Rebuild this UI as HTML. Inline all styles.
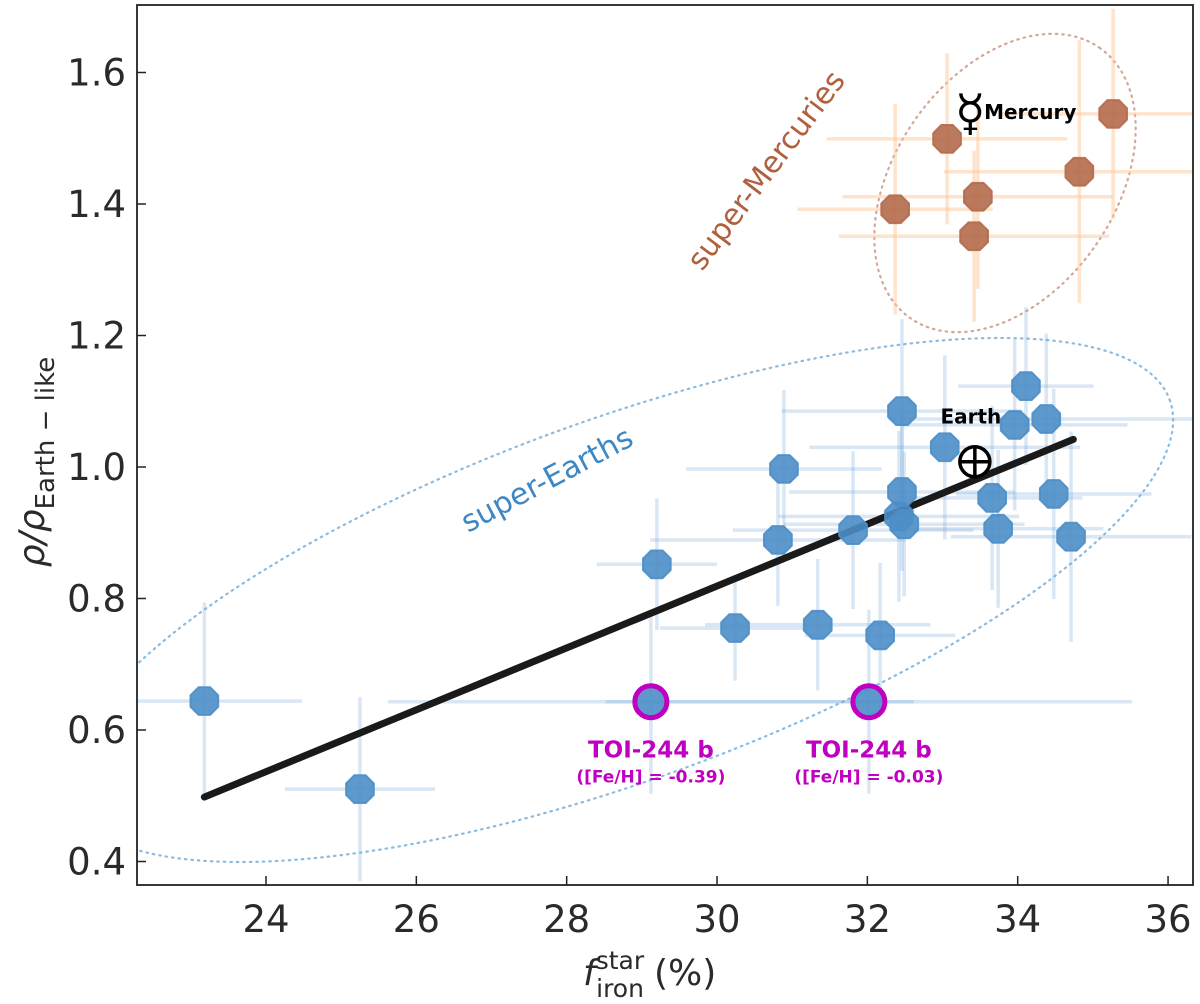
<!DOCTYPE html>
<html><head><meta charset="utf-8"><style>
html,body{margin:0;padding:0;background:#fff;}
svg{display:block;font-family:"DejaVu Sans","Liberation Sans",sans-serif;}
</style></head><body>
<svg id="chart" width="1200" height="1004" viewBox="0 0 1200 1004">
<defs><clipPath id="plotclip"><rect x="137" y="5" width="1056" height="880"/></clipPath></defs>
<g id="grid" clip-path="url(#plotclip)"></g>
<g id="marks" clip-path="url(#plotclip)"></g>
<rect x="137" y="5" width="1056" height="880" fill="none" stroke="#222" stroke-width="1.8"/>
<g id="axes"></g>
</svg>
<script>
const xTicks=[24,26,28,30,32,34,36];
const yTicks=[0.4,0.6,0.8,1.0,1.2,1.4,1.6];
const yTickLabels=["0.4","0.6","0.8","1.0","1.2","1.4","1.6"];
const earthX=[23.18,25.25,29.2,30.24,30.81,30.89,31.34,31.81,32.17,32.46,32.46,32.42,32.49,33.03,33.66,33.74,33.96,34.11,34.38,34.48,34.71];
const earthY=[0.644,0.510,0.852,0.755,0.889,0.997,0.760,0.904,0.744,1.085,0.962,0.925,0.913,1.030,0.953,0.906,1.064,1.123,1.073,0.959,0.894];
const earthXErr=[1.3,1.0,0.8,1.0,1.7,1.3,1.5,1.6,1.0,1.6,1.5,1.6,1.6,1.8,1.2,1.4,1.5,0.9,2.1,1.3,1.6];
const earthYErr=[0.15,0.14,0.1,0.08,0.1,0.12,0.1,0.12,0.11,0.14,0.12,0.13,0.11,0.14,0.14,0.12,0.13,0.12,0.13,0.16,0.16];
const mercX=[32.37,33.06,33.47,33.42,34.82,35.27];
const mercY=[1.392,1.499,1.411,1.351,1.449,1.537];
const mercXErr=[1.3,1.6,1.8,1.8,1.8,1.5];
const mercYErr=[0.16,0.13,0.14,0.13,0.2,0.16];
const toiX=[29.12,32.02];
const toiY=[0.643,0.643];
const toiXErr=[3.5,3.5];
const toiYErr=[0.14,0.14];
const toiLabels=["([Fe/H] = -0.39)","([Fe/H] = -0.03)"];
const fitX=[23.18,34.74];
const fitY=[0.498,1.042];
const mercuryPlanet=[33.34,1.543];
const earthPlanet=[33.43,1.008];

const X=v=>266+(v-24)*75.17;
const Y=v=>467-(v-1.0)*657.5;
const NS="http://www.w3.org/2000/svg";
function mk(tag,attrs,parent){const e=document.createElementNS(NS,tag);for(const k in attrs)e.setAttribute(k,attrs[k]);parent.appendChild(e);return e;}
const grid=document.getElementById('grid'),marks=document.getElementById('marks'),axes=document.getElementById('axes');

let el=mk('ellipse',{cx:620,cy:600,rx:585,ry:180,transform:'rotate(-20 620 600)',fill:'none',stroke:'#8bbbe0','stroke-width':2.2,'stroke-dasharray':'1.5 5','stroke-linecap':'round'},grid);


el=mk('ellipse',{cx:1005,cy:183,rx:165,ry:110,transform:'rotate(-55 1005 183)',fill:'none',stroke:'#d4a898','stroke-width':2.2,'stroke-dasharray':'1.5 5','stroke-linecap':'round'},grid);



function errbars(xs,ys,xe,ye,col,name){
 for(let i=0;i<xs.length;i++){
  const h=mk('line',{x1:X(xs[i]-xe[i]),x2:X(xs[i]+xe[i]),y1:Y(ys[i]),y2:Y(ys[i]),stroke:col,'stroke-width':3.5},grid);
  
  
  const v=mk('line',{x1:X(xs[i]),x2:X(xs[i]),y1:Y(ys[i]-ye[i]),y2:Y(ys[i]+ye[i]),stroke:col,'stroke-width':3.5},grid);
  
  
 }
}
errbars(earthX,earthY,earthXErr,earthYErr,'rgba(120,170,215,0.28)','super-earth');
errbars(toiX,toiY,toiXErr,toiYErr,'rgba(120,170,215,0.28)','toi');
errbars(mercX,mercY,mercXErr,mercYErr,'rgba(253,200,155,0.5)','super-mercury');

function octo(cx,cy,r){const p=[];for(let k=0;k<8;k++){const a=Math.PI/8+k*Math.PI/4;p.push((cx+r*Math.cos(a)).toFixed(1)+','+(cy+r*Math.sin(a)).toFixed(1));}return p.join(' ');}
const fl=mk('line',{x1:X(fitX[0]),y1:Y(fitY[0]),x2:X(fitX[1]),y2:Y(fitY[1]),stroke:'#1a1a1a','stroke-width':7,'stroke-linecap':'round'},marks);


for(let i=0;i<earthX.length;i++){
 const p=mk('polygon',{points:octo(X(earthX[i]),Y(earthY[i]),15),fill:'#4c8ec8','fill-opacity':0.9,stroke:'#4c8ec8','stroke-opacity':0.9,'stroke-width':2,'stroke-linejoin':'round'},marks);
 
 
}
for(let i=0;i<mercX.length;i++){
 const p=mk('polygon',{points:octo(X(mercX[i]),Y(mercY[i]),15),fill:'#b46c4c','fill-opacity':0.9,stroke:'#b46c4c','stroke-opacity':0.9,'stroke-width':2,'stroke-linejoin':'round'},marks);
 
 
}
for(let i=0;i<toiX.length;i++){
 const p=mk('circle',{cx:X(toiX[i]),cy:Y(toiY[i]),r:16,fill:'#4c8ec8','fill-opacity':0.9,stroke:'#c000c0','stroke-width':5},marks);
 
 
 const t=mk('text',{x:X(toiX[i]),y:Y(toiY[i])+56,'text-anchor':'middle','font-size':23,'font-weight':'bold',fill:'#c000c0'},marks);
 t.textContent='TOI-244 b';
 
 
 const t2=mk('text',{x:X(toiX[i]),y:Y(toiY[i])+81,'text-anchor':'middle','font-size':17,'font-weight':'bold',fill:'#c000c0'},marks);
 t2.textContent=toiLabels[i];
 
 
}
const ex=X(earthPlanet[0]),ey=Y(earthPlanet[1]);
const eg=mk('g',{},marks);


mk('circle',{cx:ex,cy:ey,r:15,fill:'#fff',stroke:'#000','stroke-width':3.5},eg);
mk('line',{x1:ex-15,x2:ex+15,y1:ey,y2:ey,stroke:'#000','stroke-width':3.5},eg);
mk('line',{x1:ex,x2:ex,y1:ey-15,y2:ey+15,stroke:'#000','stroke-width':3.5},eg);
let t=mk('text',{x:ex-4,y:ey-38,'text-anchor':'middle','font-size':20,'font-weight':'bold',fill:'#000'},marks);
t.textContent='Earth';


const mx=X(mercuryPlanet[0]),my=Y(mercuryPlanet[1]);
t=mk('text',{x:mx+2,y:my+20,'text-anchor':'middle','font-size':50,fill:'#000'},marks);
t.textContent='☿';


t=mk('text',{x:mx+16,y:my+9,'font-size':20,'font-weight':'bold',fill:'#000'},marks);
t.textContent='Mercury';


t=mk('text',{x:0,y:0,'font-size':30,fill:'#b0603c',transform:'translate(702,272) rotate(-53)'},marks);
t.textContent='super-Mercuries';


t=mk('text',{x:0,y:0,'font-size':30,fill:'#3d88c4',transform:'translate(468,533) rotate(-28)'},marks);
t.textContent='super-Earths';



xTicks.forEach(v=>{
 const l=mk('line',{x1:X(v),x2:X(v),y1:885,y2:876,stroke:'#222','stroke-width':1.5},axes);
 
 
 const tt=mk('text',{x:X(v),y:932,'text-anchor':'middle','font-size':37,fill:'#2a2a2a'},axes);
 tt.textContent=String(v);
 
 
});
yTicks.forEach((v,i)=>{
 const l=mk('line',{x1:137,x2:146,y1:Y(v),y2:Y(v),stroke:'#222','stroke-width':1.5},axes);
 
 
 const tt=mk('text',{x:126,y:Y(v)+13,'text-anchor':'end','font-size':37,fill:'#2a2a2a'},axes);
 tt.textContent=yTickLabels[i];
 
 
});
t=mk('text',{x:0,y:0,'font-size':36,fill:'#2a2a2a',transform:'translate(44,462) rotate(-90)','text-anchor':'middle'},axes);
t.innerHTML='<tspan font-style="italic">ρ/ρ</tspan><tspan font-size="26" dy="10">Earth − like</tspan>';


t=mk('text',{x:583,y:985,'font-size':36,fill:'#2a2a2a'},axes);
t.innerHTML='<tspan font-style="italic">f</tspan><tspan font-size="25" dy="-16">star</tspan><tspan font-size="25" dx="-48" dy="28">iron</tspan><tspan dx="10" dy="-12">(%)</tspan>';


</script>
</body></html>
